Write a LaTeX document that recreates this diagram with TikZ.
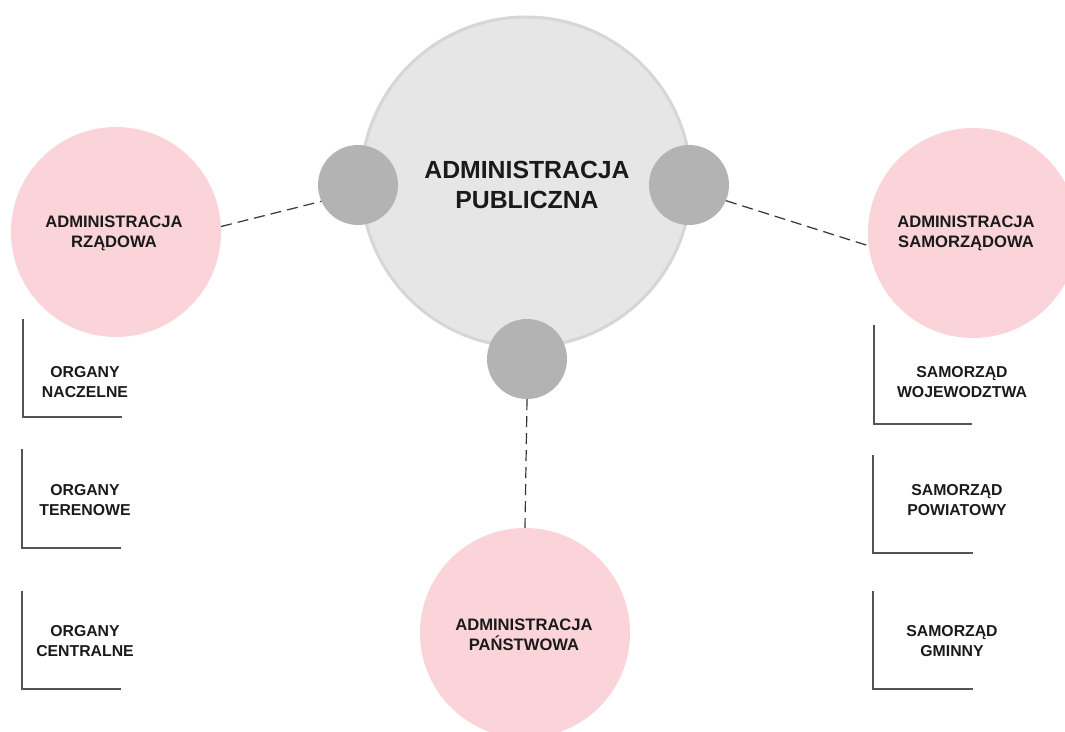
\documentclass[tikz,border=0pt]{standalone}
\usepackage{fontspec}
\setmainfont{Liberation Sans}
\definecolor{pinkfill}{HTML}{FBD4DA}
\definecolor{centerfill}{HTML}{E6E6E6}
\definecolor{centerline}{HTML}{D6D6D6}
\definecolor{dotgray}{HTML}{B3B3B3}
\definecolor{txt}{HTML}{1A1A1A}
\definecolor{linegray}{HTML}{555555}
\begin{document}
\begin{tikzpicture}[x=1pt,y=-1pt,
  bigcirc/.style={circle,inner sep=0pt,minimum size=330pt,fill=centerfill,draw=centerline,line width=3pt},
  dotcirc/.style={circle,inner sep=0pt,minimum size=80pt,fill=dotgray},
  pinkcirc/.style={circle,inner sep=0pt,minimum size=210pt,fill=pinkfill},
  bigtext/.style={align=center,text=txt,font=\fontsize{24.8}{30}\selectfont\bfseries},
  midtext/.style={align=center,text=txt,font=\fontsize{16.6}{20}\selectfont\bfseries},
  smalltext/.style={align=center,text=txt,font=\fontsize{15.8}{20}\selectfont\bfseries},
  dashlink/.style={draw=black!80,line width=1.2pt,dash pattern=on 11pt off 6pt},
  bracket/.style={draw=linegray,line width=1.2pt}]
\useasboundingbox (0,0) rectangle (1065,731);
\clip (0,0) rectangle (1065,731);
% central circle
\node[bigcirc] (central) at (526,182) {};
\node[bigtext] (centraltext) at (527,185) {ADMINISTRACJA\\PUBLICZNA};
% small connector circles
\node[dotcirc] (dl) at (358,185) {};
\node[dotcirc] (dr) at (689,185) {};
\node[dotcirc] (db) at (527,359) {};
% pink circles
\node[pinkcirc] (pl) at (116,232) {};
\node[pinkcirc] (pr) at (973,233) {};
\node[pinkcirc] (pb) at (525,633) {};
\node[midtext] (pltext) at (114,233) {ADMINISTRACJA\\RZĄDOWA};
\node[midtext] (prtext) at (966,233) {ADMINISTRACJA\\SAMORZĄDOWA};
\node[midtext] (pbtext) at (524,635) {ADMINISTRACJA\\PAŃSTWOWA};
% dashed links
\draw[dashlink] (pl.3) -- (dl.204);
\draw[dashlink] (dr.-23) -- (pr.187);
\draw[dashlink] (db.-90) -- (pb.90);
% left brackets
\draw[bracket] (23,319) |- (122,417);
\draw[bracket] (22,449) |- (121,548);
\draw[bracket] (22,591) |- (121,689);
\node[smalltext] (o1) at (85,382) {ORGANY\\NACZELNE};
\node[smalltext] (o2) at (85,500) {ORGANY\\TERENOWE};
\node[smalltext] (o3) at (85,641) {ORGANY\\CENTRALNE};
% right brackets
\draw[bracket] (874,325) |- (972,424);
\draw[bracket] (873,455) |- (973,553);
\draw[bracket] (873,591) |- (973,689);
\node[smalltext] (s1) at (962,382) {SAMORZĄD\\WOJEWODZTWA};
\node[smalltext] (s2) at (957,500) {SAMORZĄD\\POWIATOWY};
\node[smalltext] (s3) at (952,641) {SAMORZĄD\\GMINNY};
\end{tikzpicture}
\end{document}
